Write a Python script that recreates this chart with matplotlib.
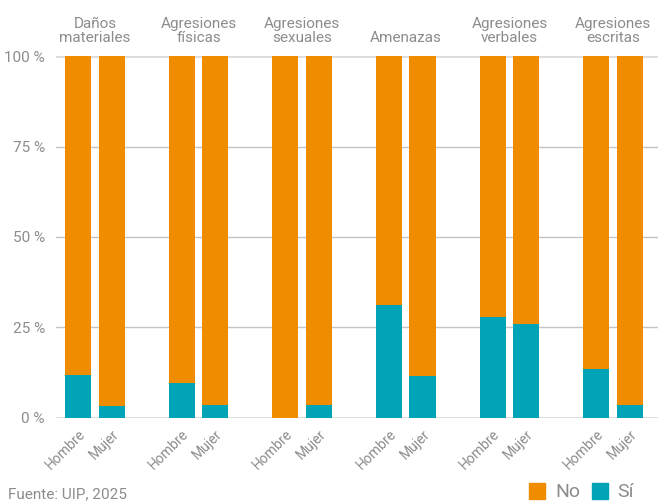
import matplotlib
matplotlib.use("Agg")
import matplotlib.pyplot as plt
from matplotlib.patches import Rectangle
from matplotlib.transforms import blended_transform_factory
import numpy as np

plt.rcParams['font.family'] = ['Roboto', 'DejaVu Sans']

categories = ["Daños\nmateriales", "Agresiones\nfísicas", "Agresiones\nsexuales",
              "Amenazas", "Agresiones\nverbales", "Agresiones\nescritas"]
groups = ["Hombre", "Mujer"]
si_hombre = [11.8, 9.6, 0.0, 31.2, 27.8, 13.5]
si_mujer = [3.2, 3.5, 3.5, 11.5, 26.0, 3.5]
yticks = [0, 25, 50, 75, 100]
source = "Fuente: UIP, 2025"

ORANGE = "#F08C00"
TEAL = "#00A4B6"
TEXT = "#8c8c8c"

fig = plt.figure(figsize=(6.58, 5.01), dpi=100)
ax = fig.add_axes([56 / 658, (501 - 417.7) / 501, 1 - 56 / 658, (417.7 - 56.1) / 501])

group_pitch = 3.09
bar_width = 0.78
n = len(categories)
x_h = np.arange(n) * group_pitch
x_m = x_h + 1.0

for xs, vals in ((x_h, si_hombre), (x_m, si_mujer)):
    vals = np.array(vals)
    ax.bar(xs, vals, width=bar_width, color=TEAL, zorder=3)
    ax.bar(xs, 100 - vals, bottom=vals, width=bar_width, color=ORANGE, zorder=3)

ax.set_xlim(x_h[0] - 0.66, x_m[-1] + 0.84)
ax.set_ylim(0, 100)

for s in ax.spines.values():
    s.set_visible(False)

# horizontal grid
for y in yticks:
    if y in (0, 100):
        ax.axhline(y, color="#dcdcdc", lw=2.0, zorder=2)
    else:
        ax.axhline(y, color="#c4c4c4", lw=1.0, zorder=2)

ax.set_yticks(yticks)
ax.set_yticklabels([f"{v} %" for v in yticks])
ax.tick_params(axis="y", length=0, pad=8, labelsize=11, labelcolor=TEXT)

xt = np.ravel(np.column_stack([x_h, x_m]))
ax.set_xticks(xt)
ax.set_xticklabels(groups * n, rotation=45, ha="right", va="top",
                   rotation_mode="anchor")
ax.tick_params(axis="x", length=0, pad=7, labelsize=10, labelcolor=TEXT)

# facet titles
tr = blended_transform_factory(ax.transData, fig.transFigure)
for xh, xm, name in zip(x_h, x_m, categories):
    ax.text((xh + xm) / 2, 1 - 42 / 501, name, transform=tr, ha="center",
            va="baseline", fontsize=11, color=TEXT, linespacing=1.0)

fig.text(8 / 658, 1 - 498 / 501, source, fontsize=11, color=TEXT,
         ha="left", va="baseline")

# legend
fig.patches.append(Rectangle((529 / 658, 2 / 501), 16 / 658, 16 / 501,
                             transform=fig.transFigure, color=ORANGE))
fig.text(555 / 658, 1 - 497 / 501, "No", fontsize=14, color=TEXT, va="baseline")
fig.patches.append(Rectangle((592 / 658, 2 / 501), 16 / 658, 16 / 501,
                             transform=fig.transFigure, color=TEAL))
fig.text(617 / 658, 1 - 497 / 501, "Sí", fontsize=14, color=TEXT, va="baseline")

fig.savefig("out.png", dpi=100, facecolor="white")
